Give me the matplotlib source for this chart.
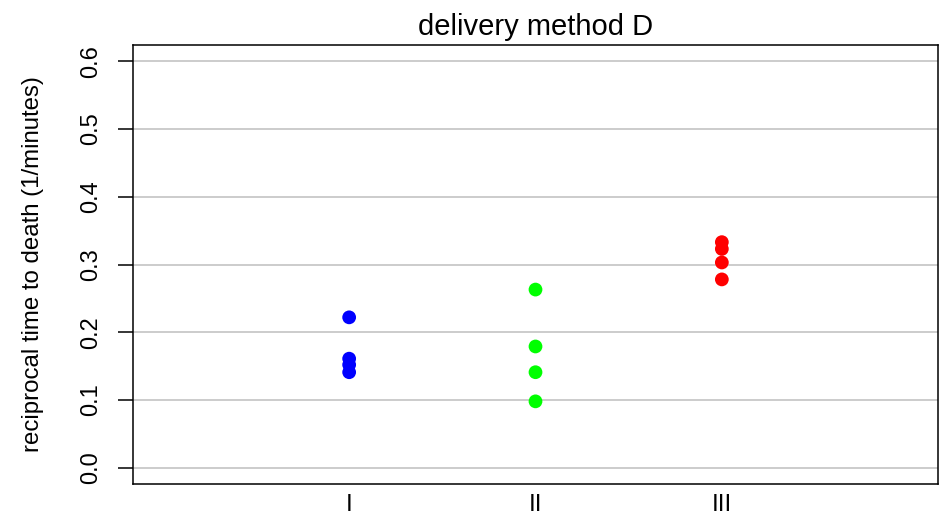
import matplotlib
matplotlib.use("Agg")
import matplotlib.pyplot as plt

plt.rcParams['font.family'] = ['Liberation Sans', 'DejaVu Sans']

# reciprocal survival times for delivery method D, by poison type
poison_types = ["I", "II", "III"]
recip_I = [0.222, 0.141, 0.152, 0.161]
recip_II = [0.263, 0.179, 0.141, 0.098]
recip_III = [0.333, 0.278, 0.323, 0.303]
group_values = [recip_I, recip_II, recip_III]
group_colors = ["#0000FF", "#00FF00", "#FF0000"]
y_ticks = [0.0, 0.1, 0.2, 0.3, 0.4, 0.5, 0.6]

fig = plt.figure(figsize=(9.46, 5.19), dpi=100)
ax = fig.add_axes([133 / 946, 1 - 484 / 519, (938 - 133) / 946, (484 - 45) / 519])

for yt in y_ticks:
    ax.axhline(yt, color="#BEBEBE", lw=1.1, zorder=1)

for pos, (vals, col) in enumerate(zip(group_values, group_colors), start=1):
    ax.scatter([pos] * len(vals), vals, s=98, color=col, edgecolors="none", zorder=3)

ax.set_xlim(-0.16, 4.16)
ax.set_ylim(-0.024, 0.624)
ax.set_xticks(range(1, len(poison_types) + 1))
ax.set_xticklabels(poison_types, fontsize=17.5)
ax.tick_params(axis="x", length=0, pad=7)
ax.set_yticks(y_ticks)
ax.set_yticklabels([f"{v:.1f}" for v in y_ticks], rotation=90, va="center", fontsize=17)
ax.tick_params(axis="y", length=11, width=1.1, pad=11)

for sp in ax.spines.values():
    sp.set_linewidth(1.1)

ax.set_ylabel("reciprocal time to death (1/minutes)", fontsize=17.3, labelpad=26)
ax.set_title("delivery method D", fontsize=21, pad=7)

fig.savefig("out.png", dpi=100)
